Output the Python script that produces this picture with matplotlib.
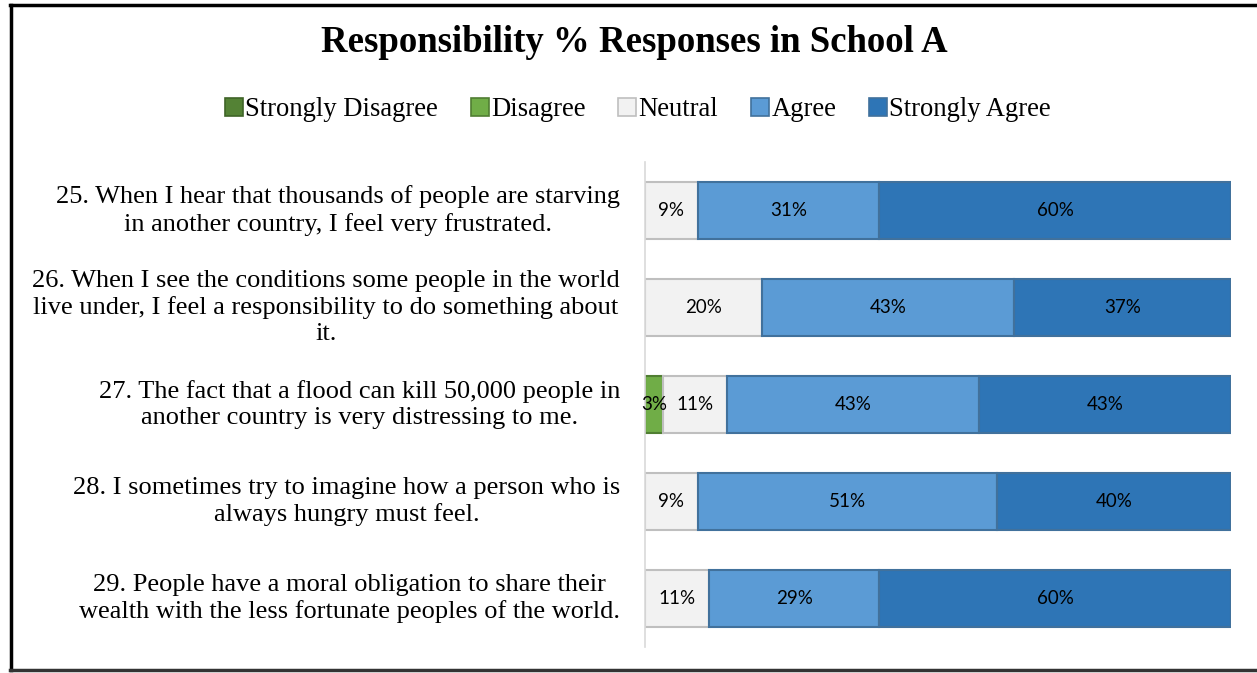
import numpy as np
import matplotlib.pyplot as plt
from matplotlib.lines import Line2D

questions = [
    "25. When I hear that thousands of people are starving\nin another country, I feel very frustrated.",
    "26. When I see the conditions some people in the world\nlive under, I feel a responsibility to do something about\nit.",
    "27. The fact that a flood can kill 50,000 people in\nanother country is very distressing to me.",
    "28. I sometimes try to imagine how a person who is\nalways hungry must feel.",
    "29. People have a moral obligation to share their\nwealth with the less fortunate peoples of the world.",
]
levels = ["Strongly Disagree", "Disagree", "Neutral", "Agree", "Strongly Agree"]
strongly_disagree = [0, 0, 0, 0, 0]
disagree = [0, 0, 3, 0, 0]
neutral = [9, 20, 11, 9, 11]
agree = [31, 43, 43, 51, 29]
strongly_agree = [60, 37, 43, 40, 60]

colors = ["#548235", "#70AD47", "#F2F2F2", "#5B9BD5", "#2E75B6"]
edges = ["#3F6427", "#507E32", "#BFBFBF", "#41719C", "#41719C"]

fig = plt.figure(figsize=(12.57, 6.73), dpi=100)
ax = fig.add_axes([0.5131, 0.0386, 0.4662, 0.7207])

series = [strongly_disagree, disagree, neutral, agree, strongly_agree]
y = np.arange(len(questions))
left = np.zeros(len(questions))
for vals, c, ec in zip(series, colors, edges):
    vals = np.array(vals, dtype=float)
    ax.barh(y, vals, left=left, height=0.58, color=c, edgecolor=ec, linewidth=1.5)
    for yi, l, v in zip(y, left, vals):
        if v > 0:
            ax.text(l + v / 2, yi, f"{int(v)}%", ha="center", va="center",
                    fontsize=13.5, family="Lato", color="black")
    left += vals

ax.set_xlim(0, 100)
ax.set_ylim(len(questions) - 0.5, -0.5)
ax.set_xticks([])
ax.set_yticks([])
for s in ["top", "right", "bottom"]:
    ax.spines[s].set_visible(False)
ax.spines["left"].set_color("#D9D9D9")
ax.spines["left"].set_linewidth(1.2)

for yi, q in zip(y, questions):
    ax.annotate(q, xy=(0, yi), xycoords=("axes fraction", "data"),
                xytext=(-18, 0), textcoords="offset points",
                ha="right", va="center", multialignment="center",
                fontsize=19, family="Liberation Serif", linespacing=1.25)

fig.text(0.505, 0.937, "Responsibility % Responses in School A", ha="center", va="center",
         fontsize=26.5, fontweight="bold", family="Liberation Serif")

handles = [Line2D([], [], marker="s", linestyle="none", markersize=12.5,
                  markerfacecolor=c, markeredgecolor=ec, markeredgewidth=1.2)
           for c, ec in zip(colors, edges)]
fig.legend(handles, levels, loc="center", bbox_to_anchor=(0.5076, 0.837), ncol=5,
           frameon=False, handlelength=0.65, handletextpad=0.1, columnspacing=1.24,
           prop={"family": "Liberation Serif", "size": 19.2})

# outer frame
fig.add_artist(Line2D([0.009, 0.009], [0.004, 0.993], transform=fig.transFigure, color="black", lw=2.5))
fig.add_artist(Line2D([0.008, 1.0], [0.993, 0.993], transform=fig.transFigure, color="black", lw=2.5))
fig.add_artist(Line2D([0.008, 1.0], [0.005, 0.005], transform=fig.transFigure, color="#333333", lw=2.5))

fig.savefig("out.png", dpi=100)
